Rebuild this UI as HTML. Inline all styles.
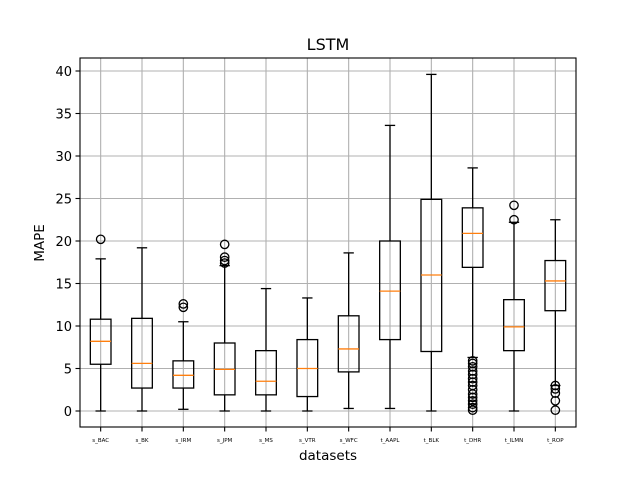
<!DOCTYPE html>
<html><head><meta charset="utf-8"><style>
body{margin:0;background:#fff;}
svg text{font-family:"DejaVu Sans","Liberation Sans",sans-serif;}
</style></head><body>
<svg id="chart" width="640" height="480" viewBox="0 0 640 480" xmlns="http://www.w3.org/2000/svg">
<rect x="0" y="0" width="640" height="480" fill="#fff"/>
<g id="grid"></g>
<g id="boxes"></g>
<g id="axes"></g>
<text x="328" y="50" font-size="16" text-anchor="middle">LSTM</text>
<text x="328" y="460" font-size="13.5" text-anchor="middle">datasets</text>
<text x="44" y="243" font-size="13.5" text-anchor="middle" transform="rotate(-90 44 243)">MAPE</text>
</svg>
<script>
const categories=["s_BAC","s_BK","s_IRM","s_JPM","s_MS","s_VTR","s_WFC","t_AAPL","t_BLK","t_DHR","t_ILMN","t_ROP"];
const q1=[5.5,2.7,2.7,1.9,1.9,1.7,4.6,8.4,7.0,16.9,7.1,11.8];
const medians=[8.2,5.6,4.2,4.9,3.5,5.0,7.3,14.1,16.0,20.9,9.9,15.3];
const q3=[10.8,10.9,5.9,8.0,7.1,8.4,11.2,20.0,24.9,23.9,13.1,17.7];
const whiskLo=[0,0,0.2,0,0,0,0.3,0.3,0,6.3,0,3.0];
const whiskHi=[17.9,19.2,10.5,17.1,14.4,13.3,18.6,33.6,39.6,28.6,22.2,22.5];
const fliers=[[20.2],[],[12.2,12.6],[17.4,17.7,18.1,19.6],[],[],[],[],[],[0.1,0.4,0.8,1.2,1.6,2.0,2.5,3.0,3.4,3.8,4.3,4.7,5.2,5.6,5.9],[22.5,24.2],[0.1,1.2,2.1,2.6,3.0]];
const yTicks=[0,5,10,15,20,25,30,35,40];

const L=80,R=576,T=58,B=427;
const y=v=>411-v*8.5;
const step=(R-L)/categories.length;
const x=i=>L+step*(i+0.5);
const NS="http://www.w3.org/2000/svg";
function mk(tag,attrs,parent){const e=document.createElementNS(NS,tag);for(const k in attrs)e.setAttribute(k,attrs[k]);parent.appendChild(e);return e;}
const grid=document.getElementById('grid'),boxes=document.getElementById('boxes'),axes=document.getElementById('axes');
yTicks.forEach(t=>{
 const g=mk('line',{x1:L,x2:R,y1:y(t),y2:y(t),stroke:'#b0b0b0','stroke-width':1.1},grid);
 
 
 const tk=mk('line',{x1:L-4.5,x2:L,y1:y(t),y2:y(t),stroke:'#000','stroke-width':1.1},axes);
 
 
 const tx=mk('text',{x:L-8,y:y(t)+5,'font-size':13,'text-anchor':'end'},axes);
 tx.textContent=t;
 
 
});
categories.forEach((c,i)=>{
 const cx=x(i);
 const g=mk('line',{x1:cx,x2:cx,y1:T,y2:B,stroke:'#b0b0b0','stroke-width':1.1},grid);
 
 
 const grp=mk('g',{},boxes);
 
 
 const w=step*0.25, cw=step*0.125, s={stroke:'#000','stroke-width':1.3,fill:'none'};
 mk('line',Object.assign({x1:cx,x2:cx,y1:y(q1[i]),y2:y(whiskLo[i])},s),grp);
 mk('line',Object.assign({x1:cx,x2:cx,y1:y(q3[i]),y2:y(whiskHi[i])},s),grp);
 mk('line',Object.assign({x1:cx-cw,x2:cx+cw,y1:y(whiskLo[i]),y2:y(whiskLo[i])},s),grp);
 mk('line',Object.assign({x1:cx-cw,x2:cx+cw,y1:y(whiskHi[i]),y2:y(whiskHi[i])},s),grp);
 mk('rect',Object.assign({x:cx-w,y:y(q3[i]),width:2*w,height:y(q1[i])-y(q3[i])},s),grp);
 mk('line',{x1:cx-w,x2:cx+w,y1:y(medians[i]),y2:y(medians[i]),stroke:'#ff7f0e','stroke-width':1.3},grp);
 fliers[i].forEach(f=>{mk('circle',Object.assign({cx:cx,cy:y(f),r:4.2},s),grp);});
 const tk=mk('line',{x1:cx,x2:cx,y1:B,y2:B+4.5,stroke:'#000','stroke-width':1.1},axes);
 
 
 const tx=mk('text',{x:cx,y:B+15,'font-size':5.5,'text-anchor':'middle'},axes);
 tx.textContent=c;
 
 
});
const fr=mk('rect',{x:L,y:T,width:R-L,height:B-T,fill:'none',stroke:'#000','stroke-width':1.1},axes);


</script>
</body></html>
